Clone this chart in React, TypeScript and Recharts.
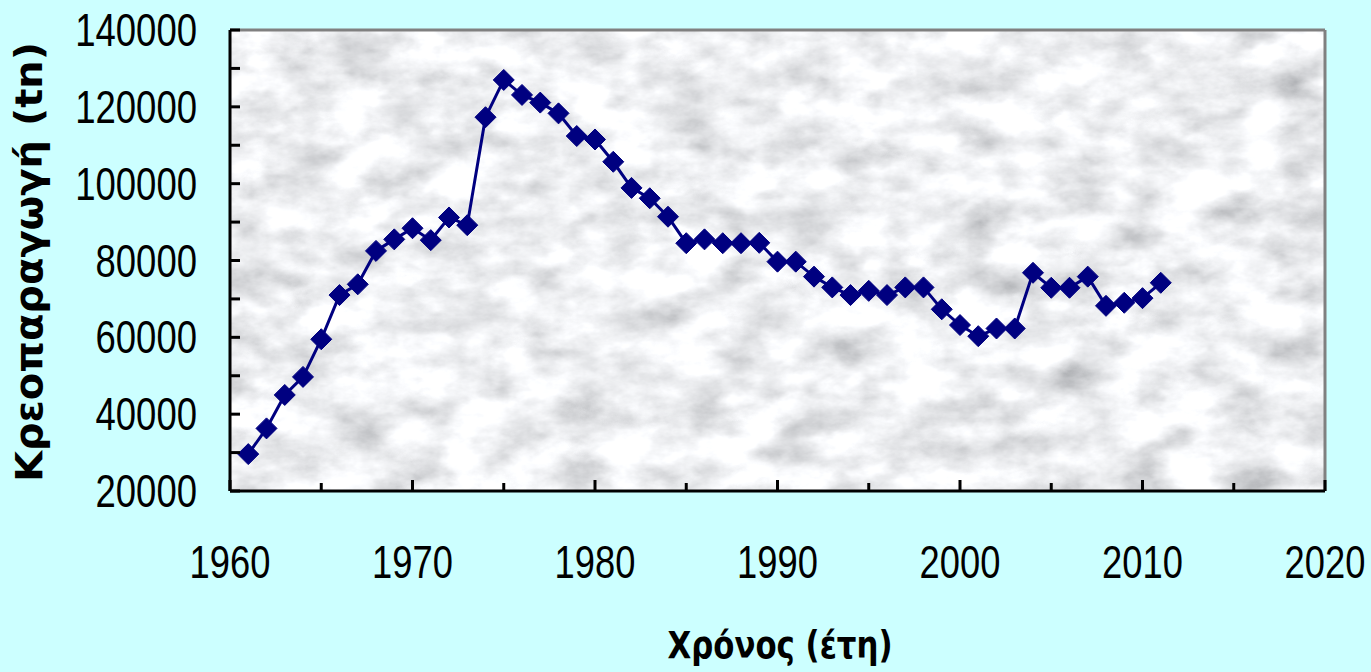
import React from "react";
import { LineChart, Line, XAxis, YAxis, ReferenceArea, ReferenceLine } from "recharts";

const years = [
  1961, 1962, 1963, 1964, 1965, 1966, 1967, 1968, 1969, 1970,
  1971, 1972, 1973, 1974, 1975, 1976, 1977, 1978, 1979, 1980,
  1981, 1982, 1983, 1984, 1985, 1986, 1987, 1988, 1989, 1990,
  1991, 1992, 1993, 1994, 1995, 1996, 1997, 1998, 1999, 2000,
  2001, 2002, 2003, 2004, 2005, 2006, 2007, 2008, 2009, 2010, 2011,
];
const meatProduction = [
  29600, 36300, 45000, 49700, 59500, 71000, 73800, 82500, 85500, 88400,
  85300, 91200, 89200, 117300, 127000, 123100, 121100, 118300, 112400, 111500,
  105700, 98900, 96200, 91400, 84500, 85500, 84500, 84500, 84600, 79700,
  79700, 75800, 73000, 71000, 72100, 71000, 73000, 73000, 67300, 63200,
  60300, 62300, 62300, 76800, 72900, 72900, 75800, 68200, 69000, 70200, 74200,
];
const xTicks = [1960, 1965, 1970, 1975, 1980, 1985, 1990, 1995, 2000, 2005, 2010, 2015, 2020];
const yTicks = [20000, 30000, 40000, 50000, 60000, 70000, 80000, 90000, 100000, 110000, 120000, 130000, 140000];
const yTitle = "Κρεοπαραγωγή (tn)";
const xTitle = "Χρόνος (έτη)";

const data = years.map((y, i) => ({ year: y, value: meatProduction[i] }));

const DIGIT_W = 20.3;

const YTick = (props: any) => {
  const { x, y, payload } = props;
  const v = payload.value as number;
  const label = String(v);
  return (
    <g>
      <line x1={x} x2={x + 10} y1={y} y2={y} stroke="#000" strokeWidth={3} />
      {v % 20000 === 0 && (
        <text
          x={x - 33}
          y={y + 16}
          textAnchor="end"
          fontFamily="'Liberation Sans', Arial, sans-serif"
          fontSize={46}
          fill="#000"
          textLength={DIGIT_W * label.length}
          lengthAdjust="spacingAndGlyphs"
        >
          {label}
        </text>
      )}
    </g>
  );
};

const XTick = (props: any) => {
  const { x, y, payload } = props;
  const v = payload.value as number;
  const label = String(v);
  const major = v % 10 === 0;
  return (
    <g>
      <line x1={x} x2={x} y1={y} y2={y - (major ? 11 : 8)} stroke="#000" strokeWidth={3} />
      {major && (
        <text
          x={x}
          y={y + 87}
          textAnchor="middle"
          fontFamily="'Liberation Sans', Arial, sans-serif"
          fontSize={46}
          fill="#000"
          textLength={20.2 * label.length}
          lengthAdjust="spacingAndGlyphs"
        >
          {label}
        </text>
      )}
    </g>
  );
};

const Diamond = (props: any) => {
  const { cx, cy, index } = props;
  if (cx == null || cy == null) return <g key={`d-${index}`} />;
  const r = 10.5;
  return (
    <path
      key={`d-${index}`}
      d={`M${cx},${cy - r} L${cx + r},${cy} L${cx},${cy + r} L${cx - r},${cy} Z`}
      fill="#000080"
      stroke="#000080"
      strokeWidth={1}
    />
  );
};

const MarbleShape = (props: any) => {
  const { x, y, width, height } = props;
  return (
    <g>
      <rect x={x} y={y} width={width} height={height} fill="#e4e6ea" />
      <rect x={x} y={y} width={width} height={height} filter="url(#marbleF)" />
    </g>
  );
};

export default function App() {
  return (
    <div
      style={{
        position: "fixed",
        left: 0,
        top: 0,
        width: 1371,
        height: 672,
        background: "#CCFFFF",
      }}
    >
      <LineChart
        width={1371}
        height={672}
        data={data}
        margin={{ top: 30, right: 46, left: 0, bottom: 0 }}
      >
        <defs>
          <filter id="marbleF" x="0" y="0" width="1" height="1" filterUnits="objectBoundingBox">
            <feTurbulence type="fractalNoise" baseFrequency="0.018 0.03" numOctaves={5} seed={11} result="n" />
            <feColorMatrix
              in="n"
              type="matrix"
              values="0.62 0.62 0 0 0.245
                      0.62 0.62 0 0 0.255
                      0.62 0.62 0 0 0.275
                      0 0 0 0 1"
            />
          </filter>
        </defs>
        <ReferenceArea
          x1={1960}
          x2={2020}
          y1={20000}
          y2={140000}
          shape={<MarbleShape />}
          ifOverflow="visible"
        />
        <ReferenceLine y={140000} stroke="#808080" strokeWidth={3} />
        <ReferenceLine x={2020} stroke="#808080" strokeWidth={3} />
        <XAxis
          dataKey="year"
          type="number"
          domain={[1960, 2020]}
          ticks={xTicks}
          interval={0}
          height={181}
          tickSize={0}
          tickMargin={0}
          tickLine={false}
          axisLine={{ stroke: "#000", strokeWidth: 3 }}
          tick={<XTick />}
          label={{
            content: () => (
              <text
                x={780}
                y={658}
                textAnchor="middle"
                fontFamily="'DejaVu Sans', Verdana, sans-serif"
                fontWeight="bold"
                fontSize={37}
                fill="#000"
                textLength={225}
                lengthAdjust="spacingAndGlyphs"
              >
                {xTitle}
              </text>
            ),
          }}
        />
        <YAxis
          type="number"
          domain={[20000, 140000]}
          ticks={yTicks}
          interval={0}
          width={230}
          tickSize={0}
          tickMargin={0}
          tickLine={false}
          axisLine={{ stroke: "#000", strokeWidth: 3 }}
          tick={<YTick />}
          label={{
            content: () => (
              <text
                x={0}
                y={0}
                transform="translate(42,262) rotate(-90)"
                textAnchor="middle"
                fontFamily="'DejaVu Sans', Verdana, sans-serif"
                fontWeight="bold"
                fontSize={37}
                fill="#000"
                textLength={440}
                lengthAdjust="spacingAndGlyphs"
              >
                {yTitle}
              </text>
            ),
          }}
        />
        <Line
          type="linear"
          dataKey="value"
          stroke="#000080"
          strokeWidth={3}
          dot={Diamond}
          activeDot={false}
          isAnimationActive={false}
        />
      </LineChart>
    </div>
  );
}
